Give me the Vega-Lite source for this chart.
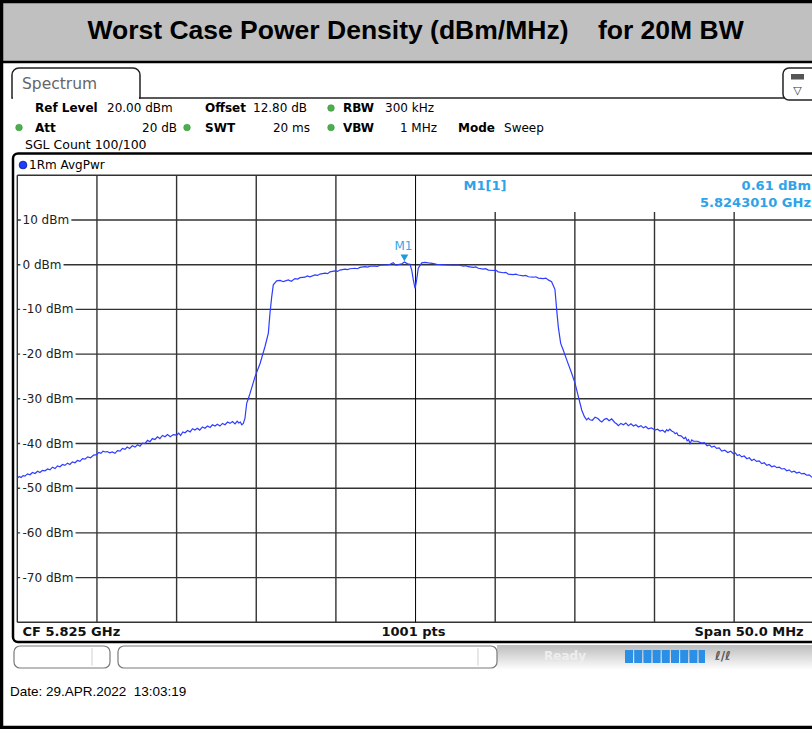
{
  "$schema": "https://vega.github.io/schema/vega-lite/v6.json",
  "width": 812,
  "height": 729,
  "autosize": "none",
  "padding": 0,
  "background": "white",
  "config": {"view": {"stroke": null}, "axis": {"disable": true}},
  "datasets": {
    "trace": [
      {"f":5800.00,"dbm":-47.8},{"f":5800.12,"dbm":-47.4},{"f":5800.24,"dbm":-47.6},{"f":5800.36,"dbm":-47.2},{"f":5800.48,"dbm":-47.3},{"f":5800.64,"dbm":-46.8},{"f":5800.80,"dbm":-47.0},{"f":5800.95,"dbm":-46.5},{"f":5801.11,"dbm":-46.7},{"f":5801.27,"dbm":-46.2},{"f":5801.42,"dbm":-46.5},{"f":5801.58,"dbm":-46.0},{"f":5801.74,"dbm":-46.1},{"f":5801.90,"dbm":-45.7},{"f":5802.05,"dbm":-45.9},{"f":5802.21,"dbm":-45.3},{"f":5802.37,"dbm":-45.6},{"f":5802.52,"dbm":-45.0},{"f":5802.68,"dbm":-45.2},{"f":5802.84,"dbm":-44.7},{"f":5802.99,"dbm":-44.9},{"f":5803.15,"dbm":-44.4},{"f":5803.30,"dbm":-44.7},{"f":5803.46,"dbm":-44.1},{"f":5803.62,"dbm":-44.3},{"f":5803.78,"dbm":-43.8},{"f":5803.93,"dbm":-44.0},{"f":5804.09,"dbm":-43.4},{"f":5804.25,"dbm":-43.5},{"f":5804.42,"dbm":-43.0},{"f":5804.60,"dbm":-43.2},{"f":5804.79,"dbm":-42.6},{"f":5804.98,"dbm":-42.5},{"f":5805.12,"dbm":-42.0},{"f":5805.25,"dbm":-42.2},{"f":5805.38,"dbm":-41.7},{"f":5805.51,"dbm":-41.9},{"f":5805.65,"dbm":-41.8},{"f":5805.80,"dbm":-42.1},{"f":5805.96,"dbm":-41.9},{"f":5806.13,"dbm":-42.2},{"f":5806.29,"dbm":-41.6},{"f":5806.45,"dbm":-41.7},{"f":5806.60,"dbm":-41.1},{"f":5806.76,"dbm":-41.3},{"f":5806.90,"dbm":-40.8},{"f":5807.05,"dbm":-41.1},{"f":5807.22,"dbm":-40.5},{"f":5807.39,"dbm":-40.8},{"f":5807.55,"dbm":-40.3},{"f":5807.70,"dbm":-40.6},{"f":5807.86,"dbm":-39.9},{"f":5808.02,"dbm":-40.0},{"f":5808.18,"dbm":-39.3},{"f":5808.33,"dbm":-39.6},{"f":5808.48,"dbm":-38.9},{"f":5808.64,"dbm":-39.1},{"f":5808.80,"dbm":-38.5},{"f":5808.95,"dbm":-38.9},{"f":5809.11,"dbm":-38.2},{"f":5809.27,"dbm":-38.5},{"f":5809.43,"dbm":-38.0},{"f":5809.60,"dbm":-38.5},{"f":5809.80,"dbm":-38.0},{"f":5810.01,"dbm":-38.1},{"f":5810.13,"dbm":-37.7},{"f":5810.25,"dbm":-38.2},{"f":5810.39,"dbm":-37.4},{"f":5810.53,"dbm":-37.6},{"f":5810.69,"dbm":-37.1},{"f":5810.85,"dbm":-37.4},{"f":5811.00,"dbm":-36.7},{"f":5811.15,"dbm":-37.0},{"f":5811.30,"dbm":-36.6},{"f":5811.45,"dbm":-37.0},{"f":5811.62,"dbm":-36.3},{"f":5811.78,"dbm":-36.6},{"f":5811.94,"dbm":-36.1},{"f":5812.10,"dbm":-36.4},{"f":5812.25,"dbm":-35.8},{"f":5812.41,"dbm":-36.1},{"f":5812.56,"dbm":-35.7},{"f":5812.72,"dbm":-36.1},{"f":5812.88,"dbm":-35.5},{"f":5813.04,"dbm":-35.8},{"f":5813.20,"dbm":-35.2},{"f":5813.35,"dbm":-35.5},{"f":5813.51,"dbm":-35.1},{"f":5813.67,"dbm":-35.6},{"f":5813.80,"dbm":-35.0},{"f":5813.90,"dbm":-35.4},{"f":5814.00,"dbm":-35.2},{"f":5814.09,"dbm":-35.8},{"f":5814.19,"dbm":-35.5},
      {"f":5814.29,"dbm":-34.4},{"f":5814.40,"dbm":-31.0},{"f":5814.50,"dbm":-30.0},{"f":5814.61,"dbm":-28.8},{"f":5814.92,"dbm":-25.1},{"f":5815.24,"dbm":-22.1},{"f":5815.55,"dbm":-18.3},{"f":5815.76,"dbm":-15.3},{"f":5815.86,"dbm":-10.9},{"f":5815.97,"dbm":-7.2},{"f":5816.07,"dbm":-4.5},{"f":5816.28,"dbm":-3.6},{"f":5816.50,"dbm":-3.5},{"f":5816.70,"dbm":-3.8},{"f":5817.01,"dbm":-3.4},{"f":5817.20,"dbm":-3.7},{"f":5817.43,"dbm":-3.1},{"f":5817.60,"dbm":-3.2},{"f":5817.75,"dbm":-2.9},{"f":5818.06,"dbm":-2.8},{"f":5818.20,"dbm":-2.5},{"f":5818.37,"dbm":-2.7},{"f":5818.69,"dbm":-2.3},{"f":5818.85,"dbm":-2.4},{"f":5819.00,"dbm":-2.1},{"f":5819.32,"dbm":-1.9},{"f":5819.48,"dbm":-2.0},{"f":5819.63,"dbm":-1.6},{"f":5819.94,"dbm":-1.4},{"f":5820.10,"dbm":-1.5},{"f":5820.25,"dbm":-1.2},{"f":5820.57,"dbm":-1.0},{"f":5820.72,"dbm":-1.1},{"f":5820.88,"dbm":-0.9},{"f":5821.20,"dbm":-0.8},{"f":5821.35,"dbm":-0.9},{"f":5821.51,"dbm":-0.6},{"f":5821.83,"dbm":-0.45},{"f":5822.00,"dbm":-0.55},{"f":5822.14,"dbm":-0.35},{"f":5822.45,"dbm":-0.3},{"f":5822.60,"dbm":-0.4},{"f":5822.77,"dbm":-0.1},{"f":5823.08,"dbm":-0.07},{"f":5823.35,"dbm":0.0},{"f":5823.60,"dbm":0.45},{"f":5823.75,"dbm":-0.1},{"f":5823.92,"dbm":0.0},{"f":5824.15,"dbm":0.2},{"f":5824.30,"dbm":0.61},{"f":5824.50,"dbm":0.2},{"f":5824.65,"dbm":0.1},{"f":5824.76,"dbm":-1.2},{"f":5824.86,"dbm":-3.4},{"f":5824.97,"dbm":-5.3},{"f":5825.07,"dbm":-3.4},{"f":5825.17,"dbm":-0.8},{"f":5825.39,"dbm":0.4},{"f":5825.60,"dbm":0.5},{"f":5825.80,"dbm":0.4},{"f":5826.05,"dbm":0.3},{"f":5826.33,"dbm":0.1},{"f":5826.60,"dbm":0.0},{"f":5826.96,"dbm":-0.07},{"f":5827.30,"dbm":-0.1},{"f":5827.68,"dbm":-0.07},{"f":5828.00,"dbm":-0.3},{"f":5828.15,"dbm":-0.2},{"f":5828.31,"dbm":-0.45},{"f":5828.62,"dbm":-0.6},{"f":5828.78,"dbm":-0.5},{"f":5828.94,"dbm":-0.8},{"f":5829.25,"dbm":-1.0},{"f":5829.40,"dbm":-0.9},{"f":5829.57,"dbm":-1.2},{"f":5829.88,"dbm":-1.3},{"f":5830.03,"dbm":-1.2},{"f":5830.19,"dbm":-1.6},{"f":5830.50,"dbm":-1.8},{"f":5830.66,"dbm":-1.7},{"f":5830.82,"dbm":-2.1},{"f":5831.13,"dbm":-2.2},{"f":5831.29,"dbm":-2.1},{"f":5831.45,"dbm":-2.3},{"f":5831.76,"dbm":-2.5},{"f":5831.92,"dbm":-2.4},{"f":5832.08,"dbm":-2.7},{"f":5832.40,"dbm":-2.8},{"f":5832.55,"dbm":-2.7},{"f":5832.71,"dbm":-3.0},{"f":5833.02,"dbm":-3.1},{"f":5833.18,"dbm":-3.0},{"f":5833.33,"dbm":-3.4},{"f":5833.54,"dbm":-3.8},{"f":5833.75,"dbm":-5.5},{"f":5833.86,"dbm":-10.1},{"f":5833.96,"dbm":-13.9},{"f":5834.11,"dbm":-17.6},{"f":5834.27,"dbm":-19.1},{"f":5834.49,"dbm":-21.3},{"f":5834.80,"dbm":-24.3},{"f":5835.01,"dbm":-26.5},{"f":5835.22,"dbm":-29.5},{"f":5835.43,"dbm":-32.5},
      {"f":5835.60,"dbm":-34.0},{"f":5835.74,"dbm":-34.7},{"f":5835.85,"dbm":-34.3},{"f":5835.95,"dbm":-34.7},{"f":5836.10,"dbm":-34.8},{"f":5836.27,"dbm":-34.1},{"f":5836.45,"dbm":-34.4},{"f":5836.58,"dbm":-34.9},{"f":5836.69,"dbm":-35.2},{"f":5836.85,"dbm":-34.6},{"f":5837.00,"dbm":-34.4},{"f":5837.15,"dbm":-34.9},{"f":5837.31,"dbm":-34.5},{"f":5837.50,"dbm":-35.3},{"f":5837.62,"dbm":-35.6},{"f":5837.73,"dbm":-36.0},{"f":5837.89,"dbm":-35.5},{"f":5838.05,"dbm":-35.8},{"f":5838.20,"dbm":-35.4},{"f":5838.36,"dbm":-36.0},{"f":5838.52,"dbm":-35.6},{"f":5838.68,"dbm":-36.1},{"f":5838.83,"dbm":-35.8},{"f":5838.99,"dbm":-36.3},{"f":5839.15,"dbm":-36.0},{"f":5839.30,"dbm":-36.5},{"f":5839.45,"dbm":-36.2},{"f":5839.61,"dbm":-36.7},{"f":5839.80,"dbm":-36.5},{"f":5840.03,"dbm":-37.0},{"f":5840.19,"dbm":-36.8},{"f":5840.35,"dbm":-37.2},{"f":5840.50,"dbm":-37.0},{"f":5840.66,"dbm":-37.5},{"f":5840.76,"dbm":-36.9},{"f":5840.85,"dbm":-37.2},{"f":5840.96,"dbm":-36.8},{"f":5841.08,"dbm":-37.2},{"f":5841.20,"dbm":-37.4},{"f":5841.30,"dbm":-37.8},{"f":5841.40,"dbm":-37.6},{"f":5841.49,"dbm":-38.2},{"f":5841.67,"dbm":-38.3},{"f":5841.85,"dbm":-38.9},{"f":5841.95,"dbm":-38.6},{"f":5842.05,"dbm":-39.4},{"f":5842.14,"dbm":-39.1},{"f":5842.23,"dbm":-40.0},{"f":5842.34,"dbm":-39.2},{"f":5842.45,"dbm":-39.5},{"f":5842.70,"dbm":-39.5},{"f":5842.96,"dbm":-39.9},{"f":5843.13,"dbm":-39.8},{"f":5843.30,"dbm":-40.5},{"f":5843.45,"dbm":-40.3},{"f":5843.59,"dbm":-40.8},{"f":5843.75,"dbm":-40.6},{"f":5843.90,"dbm":-41.1},{"f":5844.06,"dbm":-41.0},{"f":5844.22,"dbm":-41.7},{"f":5844.41,"dbm":-41.5},{"f":5844.60,"dbm":-42.0},{"f":5844.78,"dbm":-41.7},{"f":5844.95,"dbm":-42.3},{"f":5845.08,"dbm":-42.1},{"f":5845.20,"dbm":-42.7},{"f":5845.33,"dbm":-42.5},{"f":5845.47,"dbm":-43.0},{"f":5845.63,"dbm":-42.8},{"f":5845.80,"dbm":-43.4},{"f":5845.95,"dbm":-43.2},{"f":5846.10,"dbm":-43.8},{"f":5846.25,"dbm":-43.5},{"f":5846.40,"dbm":-44.0},{"f":5846.57,"dbm":-43.9},{"f":5846.73,"dbm":-44.5},{"f":5846.89,"dbm":-44.3},{"f":5847.05,"dbm":-44.9},{"f":5847.20,"dbm":-44.7},{"f":5847.36,"dbm":-45.2},{"f":5847.52,"dbm":-45.0},{"f":5847.68,"dbm":-45.4},{"f":5847.83,"dbm":-45.3},{"f":5847.99,"dbm":-45.7},{"f":5848.15,"dbm":-45.6},{"f":5848.30,"dbm":-46.1},{"f":5848.45,"dbm":-45.9},{"f":5848.61,"dbm":-46.4},{"f":5848.77,"dbm":-46.2},{"f":5848.93,"dbm":-46.6},{"f":5849.08,"dbm":-46.4},{"f":5849.24,"dbm":-46.8},{"f":5849.40,"dbm":-46.7},{"f":5849.55,"dbm":-47.1},{"f":5849.71,"dbm":-47.0},{"f":5849.87,"dbm":-47.5},{"f":5850.00,"dbm":-47.7}
    ],
    "levels": [
      {"level":10,"label":"10 dBm"},{"level":0,"label":"0 dBm"},{"level":-10,"label":"-10 dBm"},{"level":-20,"label":"-20 dBm"},{"level":-30,"label":"-30 dBm"},{"level":-40,"label":"-40 dBm"},{"level":-50,"label":"-50 dBm"},{"level":-60,"label":"-60 dBm"},{"level":-70,"label":"-70 dBm"}
    ],
    "hlines": [{"level":20},{"level":10},{"level":0},{"level":-10},{"level":-20},{"level":-30},{"level":-40},{"level":-50},{"level":-60},{"level":-70},{"level":-80}],
    "vleft": [{"f":5800},{"f":5805},{"f":5810},{"f":5815},{"f":5820}],
    "vright": [{"f":5830},{"f":5835},{"f":5840},{"f":5845}],
    "marker": [{"f":5824.301,"dbm":0.61,"name":"M1"}]
  },
  "layer": [
    {"data":{"values":[{}]},"mark":{"type":"rect","fill":"#c0c0c0","stroke":"#000","strokeWidth":2.5},
     "encoding":{"x":{"datum":5798.5},"x2":{"datum":5851},"y":{"datum":59.5},"y2":{"datum":45.35}}},
    {"data":{"values":[{}]},"mark":{"type":"rect","fill":"transparent","stroke":"#000","strokeWidth":3.5},
     "encoding":{"x":{"datum":5799.008},"x2":{"datum":5852},"y":{"datum":58.88},"y2":{"datum":-103.53}}},
    {"data":{"values":[{}]},"mark":{"type":"text","text":"Worst Case Power Density (dBm/MHz)\u00a0\u00a0\u00a0\u00a0for 20M BW","font":"Liberation Sans","fontWeight":"bold","fontSize":26.5,"align":"center","baseline":"middle","fill":"#000"},
     "encoding":{"x":{"datum":5825},"y":{"datum":52.28}}},
    {"data":{"values":[{}]},"mark":{"type":"rect","fill":"white","stroke":"#222","strokeWidth":1.5,"cornerRadiusTopLeft":7,"cornerRadiusTopRight":7},
     "encoding":{"x":{"datum":5799.667},"x2":{"datum":5807.702},"y":{"datum":44.004},"y2":{"datum":37.293}}},
    {"data":{"values":[{}]},"mark":{"type":"rule","stroke":"white","strokeWidth":2.5},
     "encoding":{"x":{"datum":5799.73},"x2":{"datum":5807.64},"y":{"datum":37.293}}},
    {"data":{"values":[{}]},"mark":{"type":"rule","stroke":"#222","strokeWidth":1.5},
     "encoding":{"x":{"datum":5807.64},"x2":{"datum":5848.19},"y":{"datum":37.293}}},
    {"data":{"values":[{}]},"mark":{"type":"text","text":"Spectrum","font":"DejaVu Sans","fontSize":15.5,"align":"left","baseline":"middle","fill":"#666"},
     "encoding":{"x":{"datum":5800.295},"y":{"datum":40.425}}},
    {"data":{"values":[{}]},"mark":{"type":"rect","fill":"white","stroke":"#222","strokeWidth":1.5,"cornerRadius":6},
     "encoding":{"x":{"datum":5848.066},"x2":{"datum":5851},"y":{"datum":44.004},"y2":{"datum":36.846}}},
    {"data":{"values":[{}]},"mark":{"type":"rect","fill":"#555"},
     "encoding":{"x":{"datum":5848.568},"x2":{"datum":5849.384},"y":{"datum":42.66},"y2":{"datum":41.43}}},
    {"data":{"values":[{}]},"mark":{"type":"text","text":"▽","font":"DejaVu Sans","fontSize":11,"align":"center","baseline":"middle","fill":"#333"},
     "encoding":{"x":{"datum":5848.976},"y":{"datum":38.9}}},

    {"data":{"values":[{}]},"mark":{"type":"text","text":"Ref Level","font":"DejaVu Sans","fontWeight":"bold","fontSize":12,"align":"left","baseline":"middle","fill":"#000"},
     "encoding":{"x":{"datum":5801.111},"y":{"datum":35.056}}},
    {"data":{"values":[{}]},"mark":{"type":"text","text":"20.00 dBm","font":"DejaVu Sans","fontSize":12,"align":"left","baseline":"middle","fill":"#000"},
     "encoding":{"x":{"datum":5805.631},"y":{"datum":35.056}}},
    {"data":{"values":[{}]},"mark":{"type":"text","text":"Offset","font":"DejaVu Sans","fontWeight":"bold","fontSize":12,"align":"left","baseline":"middle","fill":"#000"},
     "encoding":{"x":{"datum":5811.783},"y":{"datum":35.056}}},
    {"data":{"values":[{}]},"mark":{"type":"text","text":"12.80 dB","font":"DejaVu Sans","fontSize":12,"align":"left","baseline":"middle","fill":"#000"},
     "encoding":{"x":{"datum":5814.796},"y":{"datum":35.056}}},
    {"data":{"values":[{}]},"mark":{"type":"point","shape":"circle","filled":true,"size":45,"fill":"#4cae4c","stroke":"#3a8f3a","strokeWidth":0.5,"opacity":1},
     "encoding":{"x":{"datum":5819.693},"y":{"datum":35.056}}},
    {"data":{"values":[{}]},"mark":{"type":"text","text":"RBW","font":"DejaVu Sans","fontWeight":"bold","fontSize":12,"align":"left","baseline":"middle","fill":"#000"},
     "encoding":{"x":{"datum":5820.446},"y":{"datum":35.056}}},
    {"data":{"values":[{}]},"mark":{"type":"text","text":"300 kHz","font":"DejaVu Sans","fontSize":12,"align":"left","baseline":"middle","fill":"#000"},
     "encoding":{"x":{"datum":5823.083},"y":{"datum":35.056}}},

    {"data":{"values":[{}]},"mark":{"type":"point","shape":"circle","filled":true,"size":45,"fill":"#4cae4c","stroke":"#3a8f3a","strokeWidth":0.5,"opacity":1},
     "encoding":{"x":{"datum":5800.107},"y":{"datum":30.693}}},
    {"data":{"values":[{}]},"mark":{"type":"text","text":"Att","font":"DejaVu Sans","fontWeight":"bold","fontSize":12,"align":"left","baseline":"middle","fill":"#000"},
     "encoding":{"x":{"datum":5801.111},"y":{"datum":30.693}}},
    {"data":{"values":[{}]},"mark":{"type":"text","text":"20 dB","font":"DejaVu Sans","fontSize":12,"align":"right","baseline":"middle","fill":"#000"},
     "encoding":{"x":{"datum":5810.025},"y":{"datum":30.693}}},
    {"data":{"values":[{}]},"mark":{"type":"point","shape":"circle","filled":true,"size":45,"fill":"#4cae4c","stroke":"#3a8f3a","strokeWidth":0.5,"opacity":1},
     "encoding":{"x":{"datum":5810.653},"y":{"datum":30.693}}},
    {"data":{"values":[{}]},"mark":{"type":"text","text":"SWT","font":"DejaVu Sans","fontWeight":"bold","fontSize":12,"align":"left","baseline":"middle","fill":"#000"},
     "encoding":{"x":{"datum":5811.783},"y":{"datum":30.693}}},
    {"data":{"values":[{}]},"mark":{"type":"text","text":"20 ms","font":"DejaVu Sans","fontSize":12,"align":"right","baseline":"middle","fill":"#000"},
     "encoding":{"x":{"datum":5818.374},"y":{"datum":30.693}}},
    {"data":{"values":[{}]},"mark":{"type":"point","shape":"circle","filled":true,"size":45,"fill":"#4cae4c","stroke":"#3a8f3a","strokeWidth":0.5,"opacity":1},
     "encoding":{"x":{"datum":5819.693},"y":{"datum":30.693}}},
    {"data":{"values":[{}]},"mark":{"type":"text","text":"VBW","font":"DejaVu Sans","fontWeight":"bold","fontSize":12,"align":"left","baseline":"middle","fill":"#000"},
     "encoding":{"x":{"datum":5820.446},"y":{"datum":30.693}}},
    {"data":{"values":[{}]},"mark":{"type":"text","text":"1 MHz","font":"DejaVu Sans","fontSize":12,"align":"right","baseline":"middle","fill":"#000"},
     "encoding":{"x":{"datum":5826.347},"y":{"datum":30.693}}},
    {"data":{"values":[{}]},"mark":{"type":"text","text":"Mode","font":"DejaVu Sans","fontWeight":"bold","fontSize":12,"align":"left","baseline":"middle","fill":"#000"},
     "encoding":{"x":{"datum":5827.665},"y":{"datum":30.693}}},
    {"data":{"values":[{}]},"mark":{"type":"text","text":"Sweep","font":"DejaVu Sans","fontSize":12,"align":"left","baseline":"middle","fill":"#000"},
     "encoding":{"x":{"datum":5830.553},"y":{"datum":30.693}}},
    {"data":{"values":[{}]},"mark":{"type":"text","text":"SGL Count 100/100","font":"DejaVu Sans","fontSize":12.5,"align":"left","baseline":"middle","fill":"#000"},
     "encoding":{"x":{"datum":5800.483},"y":{"datum":26.779}}},

    {"data":{"values":[{}]},"mark":{"type":"rect","fill":"transparent","stroke":"#000","strokeWidth":2.5,"cornerRadius":5},
     "encoding":{"x":{"datum":5799.73},"x2":{"datum":5852},"y":{"datum":24.877},"y2":{"datum":-84.407}}},
    {"data":{"values":[{}]},"mark":{"type":"point","shape":"circle","filled":true,"size":60,"fill":"#1f3cff","stroke":"#0a1a90","strokeWidth":0.8,"opacity":1},
     "encoding":{"x":{"datum":5800.358},"y":{"datum":22.304}}},
    {"data":{"values":[{}]},"mark":{"type":"text","text":"1Rm AvgPwr","font":"DejaVu Sans","fontSize":12,"align":"left","baseline":"middle","fill":"#000"},
     "encoding":{"x":{"datum":5800.734},"y":{"datum":22.304}}},

    {"data":{"name":"hlines"},"mark":{"type":"rule","stroke":"#333","strokeWidth":1.4},
     "encoding":{"x":{"datum":5800},"x2":{"datum":5851},"y":{"field":"level","type":"quantitative"}}},
    {"data":{"name":"vleft"},"mark":{"type":"rule","stroke":"#333","strokeWidth":1.4},
     "encoding":{"x":{"field":"f","type":"quantitative"},"y":{"datum":20},"y2":{"datum":-80}}},
    {"data":{"name":"vright"},"mark":{"type":"rule","stroke":"#333","strokeWidth":1.4},
     "encoding":{"x":{"field":"f","type":"quantitative"},"y":{"datum":11.79},"y2":{"datum":-80}}},
    {"data":{"values":[{}]},"mark":{"type":"rule","stroke":"#000","strokeWidth":1},
     "encoding":{"x":{"datum":5825},"y":{"datum":20},"y2":{"datum":-80}}},

    {"data":{"name":"levels"},"mark":{"type":"text","font":"DejaVu Sans","fontSize":12,"align":"left","baseline":"middle","fill":"white","stroke":"white","strokeWidth":6},
     "encoding":{"x":{"datum":5800.326},"y":{"field":"level","type":"quantitative"},"text":{"field":"label"}}},
    {"data":{"name":"levels"},"mark":{"type":"text","font":"DejaVu Sans","fontSize":12,"align":"left","baseline":"middle","fill":"#222"},
     "encoding":{"x":{"datum":5800.326},"y":{"field":"level","type":"quantitative"},"text":{"field":"label"}}},

    {"data":{"name":"trace"},"mark":{"type":"line","stroke":"#2e3cff","strokeWidth":1.2},
     "encoding":{
       "x":{"field":"f","type":"quantitative","scale":{"domain":[5798.914,5849.887],"nice":false,"zero":false}},
       "y":{"field":"dbm","type":"quantitative","scale":{"domain":[-103.87,59.217],"nice":false,"zero":false}}}},

    {"data":{"name":"marker"},"mark":{"type":"point","shape":"triangle-down","filled":true,"size":60,"fill":"#1f9ae0","opacity":1,"yOffset":-4},
     "encoding":{"x":{"field":"f","type":"quantitative"},"y":{"field":"dbm","type":"quantitative"}}},
    {"data":{"name":"marker"},"mark":{"type":"text","font":"DejaVu Sans","fontSize":12,"align":"center","baseline":"middle","fill":"#39a6e6","yOffset":-16,"xOffset":-1},
     "encoding":{"x":{"field":"f","type":"quantitative"},"y":{"field":"dbm","type":"quantitative"},"text":{"field":"name"}}},

    {"data":{"values":[{}]},"mark":{"type":"text","text":"M1[1]","font":"DejaVu Sans","fontWeight":"bold","fontSize":13,"align":"center","baseline":"middle","fill":"#2ea3e8"},
     "encoding":{"x":{"datum":5829.36},"y":{"datum":17.606}}},
    {"data":{"values":[{}]},"mark":{"type":"text","text":"0.61 dBm","font":"DejaVu Sans","fontWeight":"bold","fontSize":13,"align":"right","baseline":"middle","fill":"#2ea3e8"},
     "encoding":{"x":{"datum":5849.824},"y":{"datum":17.606}}},
    {"data":{"values":[{}]},"mark":{"type":"text","text":"5.8243010 GHz","font":"DejaVu Sans","fontWeight":"bold","fontSize":13,"align":"right","baseline":"middle","fill":"#2ea3e8"},
     "encoding":{"x":{"datum":5849.824},"y":{"datum":13.803}}},

    {"data":{"values":[{}]},"mark":{"type":"text","text":"CF 5.825 GHz","font":"DejaVu Sans","fontWeight":"bold","fontSize":13,"align":"left","baseline":"middle","fill":"#111"},
     "encoding":{"x":{"datum":5800.326},"y":{"datum":-82.1}}},
    {"data":{"values":[{}]},"mark":{"type":"text","text":"1001 pts","font":"DejaVu Sans","fontWeight":"bold","fontSize":13,"align":"center","baseline":"middle","fill":"#111"},
     "encoding":{"x":{"datum":5824.87},"y":{"datum":-82.1}}},
    {"data":{"values":[{}]},"mark":{"type":"text","text":"Span 50.0 MHz","font":"DejaVu Sans","fontWeight":"bold","fontSize":13,"align":"right","baseline":"middle","fill":"#111"},
     "encoding":{"x":{"datum":5849.365},"y":{"datum":-82.1}}},

    {"data":{"values":[{}]},"mark":{"type":"rect","fill":{"gradient":"linear","x1":0,"y1":0,"x2":0,"y2":1,"stops":[{"offset":0,"color":"#bdbdbd"},{"offset":1,"color":"#ffffff"}]}},
     "encoding":{"x":{"datum":5830.113},"x2":{"datum":5852},"y":{"datum":-85.08},"y2":{"datum":-90.67}}},
    {"data":{"values":[{}]},"mark":{"type":"rect","fill":"white","stroke":"#7a7a7a","strokeWidth":1.2,"cornerRadius":6},
     "encoding":{"x":{"datum":5799.793},"x2":{"datum":5805.819},"y":{"datum":-85.3},"y2":{"datum":-90.22}}},
    {"data":{"values":[{}]},"mark":{"type":"rule","stroke":"#d0d0d0","strokeWidth":1},
     "encoding":{"x":{"datum":5804.689},"y":{"datum":-85.8},"y2":{"datum":-89.7}}},
    {"data":{"values":[{}]},"mark":{"type":"rect","fill":"white","stroke":"#7a7a7a","strokeWidth":1.2,"cornerRadius":6},
     "encoding":{"x":{"datum":5806.321},"x2":{"datum":5830.113},"y":{"datum":-85.3},"y2":{"datum":-90.22}}},
    {"data":{"values":[{}]},"mark":{"type":"rule","stroke":"#d0d0d0","strokeWidth":1},
     "encoding":{"x":{"datum":5828.92},"y":{"datum":-85.8},"y2":{"datum":-89.7}}},
    {"data":{"values":[{}]},"mark":{"type":"text","text":"Ready","font":"DejaVu Sans","fontWeight":"bold","fontSize":12,"align":"center","baseline":"middle","fill":"#eeeeee"},
     "encoding":{"x":{"datum":5834.382},"y":{"datum":-87.54}}},
    {"data":{"values":[{}]},"mark":{"type":"rule","stroke":"#2b8fe5","strokeWidth":13,"strokeDash":[8,1.2]},
     "encoding":{"x":{"datum":5838.148},"x2":{"datum":5843.17},"y":{"datum":-87.65}}},
    {"data":{"values":[{}]},"mark":{"type":"text","text":"ℓ/ℓ","font":"DejaVu Sans","fontWeight":"bold","fontSize":12,"align":"left","baseline":"middle","fill":"#555"},
     "encoding":{"x":{"datum":5843.798},"y":{"datum":-87.54}}},

    {"data":{"values":[{}]},"mark":{"type":"text","text":"Date: 29.APR.2022\u00a0\u00a013:03:19","font":"Liberation Sans","fontSize":13.5,"align":"left","baseline":"middle","fill":"#000"},
     "encoding":{"x":{"datum":5799.542},"y":{"datum":-95.59}}}
  ]
}
